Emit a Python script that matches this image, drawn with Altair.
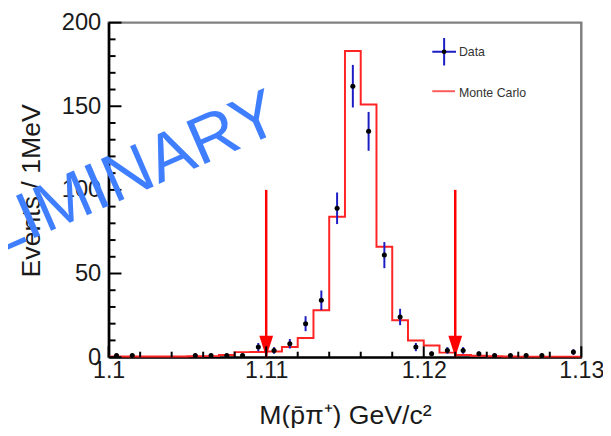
import altair as alt
import pandas as pd
import numpy as np

# ---------------- data ----------------
# Monte Carlo histogram: bin low edges (GeV/c^2) and contents (events / 1 MeV)
mc_edges = [1.100, 1.101, 1.102, 1.103, 1.104, 1.105, 1.106, 1.107, 1.108, 1.109,
            1.110, 1.111, 1.112, 1.113, 1.114, 1.115, 1.116, 1.117, 1.118, 1.119,
            1.120, 1.121, 1.122, 1.123, 1.124, 1.125, 1.126, 1.127, 1.128, 1.129]
mc_vals = [0.4, 0.4, 0.4, 0.4, 0.4, 0.5, 0.6, 1.3, 3.0, 3.1,
           3.4, 6.0, 11.5, 28, 84, 183, 151, 66, 22, 10,
           7.0, 2.7, 1.3, 0.8, 0.5, 0.4, 0.3, 0.3, 0.3, 0.3]
mc_last_edge = 1.130

# Data: bin centres and counts
data_x = [1.1005, 1.1015, 1.1055, 1.1065, 1.1075, 1.1085, 1.1095, 1.1105, 1.1115,
          1.1125, 1.1135, 1.1145, 1.1155, 1.1165, 1.1175, 1.1185, 1.1195, 1.1205,
          1.1215, 1.1225, 1.1235, 1.1245, 1.1255, 1.1265, 1.1275, 1.1295]
data_n = [1, 1, 1, 1, 1, 1, 6, 4, 8,
          20, 34, 89, 162, 135, 61, 24, 6, 2,
          4, 4, 2, 1, 1, 1, 1, 3]

# signal window cuts (arrows)
cut_x = [1.110, 1.122]
cut_top = [100, 100]
cut_bottom = [0, 0]

# axis ticks
x_major = [1.10, 1.11, 1.12, 1.13]
x_minor = [1.102, 1.104, 1.106, 1.108, 1.112, 1.114, 1.116, 1.118,
           1.122, 1.124, 1.126, 1.128]
y_major = [0, 50, 100, 150, 200]
y_minor = [10, 20, 30, 40, 60, 70, 80, 90, 110, 120, 130, 140, 160, 170, 180, 190]

legend_labels = ["Data", "Monte Carlo"]
watermark = "PRELIMINARY"
x_title = "M(p\u0304\u03c0\u207a) GeV/c\u00b2"
y_title = "Events / 1MeV"

# ---------------- tables ----------------
mc_df = pd.DataFrame({"x": mc_edges + [mc_last_edge], "y": mc_vals + [mc_vals[-1]]})
err = np.sqrt(np.array(data_n, dtype=float))
data_df = pd.DataFrame({"x": data_x, "y": data_n,
                        "lo": np.array(data_n) - err, "hi": np.array(data_n) + err})
cut_df = pd.DataFrame({"x": cut_x, "top": cut_top, "bottom": cut_bottom})
one = pd.DataFrame({"k": [0]})

FONT = "Liberation Sans"
W, H = 479, 339

xscale = alt.Scale(domain=[1.1, 1.13], nice=False, zero=False)
yscale = alt.Scale(domain=[0, 200], nice=False, zero=False)

xaxis = alt.Axis(values=x_major, format=".3~f", labelFlush=False, ticks=False, tickSize=0,
                 grid=False, domainColor="#000000", domainWidth=2.5,
                 labelFont=FONT, labelFontSize=23.5, labelColor="#1a1a1a", labelPadding=2,
                 title=x_title, titleFont=FONT, titleFontSize=27, titleFontWeight="normal",
                 titleColor="#1a1a1a", titleX=W / 2, titleY=67, titleAlign="center",
                 titleBaseline="alphabetic")
yaxis = alt.Axis(values=y_major, ticks=False, tickSize=0, grid=False,
                 domainColor="#000000", domainWidth=2.5,
                 labelFont=FONT, labelFontSize=24, labelColor="#1a1a1a", labelPadding=8,
                 title=y_title, titleFont=FONT, titleFontSize=27, titleFontWeight="normal",
                 titleColor="#1a1a1a", titleX=-70, titleY=170, titleAngle=270,
                 titleAlign="center", titleBaseline="alphabetic")

X = lambda f: alt.X(f, type="quantitative", scale=xscale, axis=xaxis)
Y = lambda f: alt.Y(f, type="quantitative", scale=yscale, axis=yaxis)

RED = "#ff2424"
BLUE = "#1c1cc4"

mc_line = alt.Chart(mc_df).mark_line(interpolate="step-after", color=RED, strokeWidth=2).encode(
    x=X("x"), y=Y("y"))

errbars = alt.Chart(data_df).mark_rule(color=BLUE, strokeWidth=2).encode(
    x=X("x"), y=Y("lo"), y2="hi")

points = alt.Chart(data_df).mark_point(filled=True, color="#000000", size=26, opacity=1).encode(
    x=X("x"), y=Y("y"))

arrow_lines = alt.Chart(cut_df).mark_rule(color="#ff0000", strokeWidth=2.5).encode(
    x=X("x"), y=Y("top"), y2="bottom")

arrow_heads = alt.Chart(cut_df).mark_point(
    shape="M -1 -3.1 L 1 -3.1 L 0 0 Z", size=196, filled=True, color="#ff0000", opacity=1
).encode(x=X("x"), y=Y("bottom"))

ytick_major = alt.Chart(pd.DataFrame({"v": y_major})).mark_rule(color="#000000", strokeWidth=2).encode(
    y=Y("v"), x=alt.value(0), x2=alt.value(13))
ytick_minor = alt.Chart(pd.DataFrame({"v": y_minor})).mark_rule(color="#000000", strokeWidth=2).encode(
    y=Y("v"), x=alt.value(0), x2=alt.value(7))
xtick_major = alt.Chart(pd.DataFrame({"v": x_major})).mark_rule(color="#000000", strokeWidth=2).encode(
    x=X("v"), y=alt.value(H), y2=alt.value(H - 11))
xtick_minor = alt.Chart(pd.DataFrame({"v": x_minor})).mark_rule(color="#000000", strokeWidth=2).encode(
    x=X("v"), y=alt.value(H), y2=alt.value(H - 5.5))

# legend
leg_cross = alt.Chart(one).mark_point(
    shape="M -1 0 L 1 0 M 0 -1.17 L 0 1.17", size=576, filled=False, color=BLUE,
    strokeWidth=2, opacity=1).encode(x=alt.value(340), y=alt.value(29.5))
leg_dot = alt.Chart(one).mark_point(filled=True, color="#000000", size=22, opacity=1).encode(
    x=alt.value(340), y=alt.value(29.5))
leg_line = alt.Chart(one).mark_rule(color="#ff5a5a", strokeWidth=2).encode(
    x=alt.value(328), x2=alt.value(351), y=alt.value(69.5))
leg_text1 = alt.Chart(one).mark_text(text=legend_labels[0], font=FONT, fontSize=12.5, color="#333333",
                                     align="left", baseline="middle").encode(
    x=alt.value(355), y=alt.value(30))
leg_text2 = alt.Chart(one).mark_text(text=legend_labels[1], font=FONT, fontSize=12.5, color="#333333",
                                     align="left", baseline="middle").encode(
    x=alt.value(355), y=alt.value(71.5))

wm = alt.Chart(one).mark_text(text=watermark, font=FONT, fontSize=68, color="#3f7fff",
                              angle=336.5, align="center", baseline="alphabetic").encode(
    x=alt.value(-33), y=alt.value(200))

chart = alt.layer(
    mc_line, errbars, points, arrow_lines, arrow_heads,
    ytick_major, ytick_minor, xtick_major, xtick_minor,
    leg_cross, leg_dot, leg_line, leg_text1, leg_text2, wm
).properties(
    width=W, height=H,
    autosize=alt.AutoSizeParams(type="none"),
    padding={"left": 102, "top": 12, "right": 22, "bottom": 69},
    background="#ffffff",
).configure_view(stroke="#808080", strokeWidth=2.5)

chart.save("out.html", embed_options={"renderer": "svg", "actions": False})
